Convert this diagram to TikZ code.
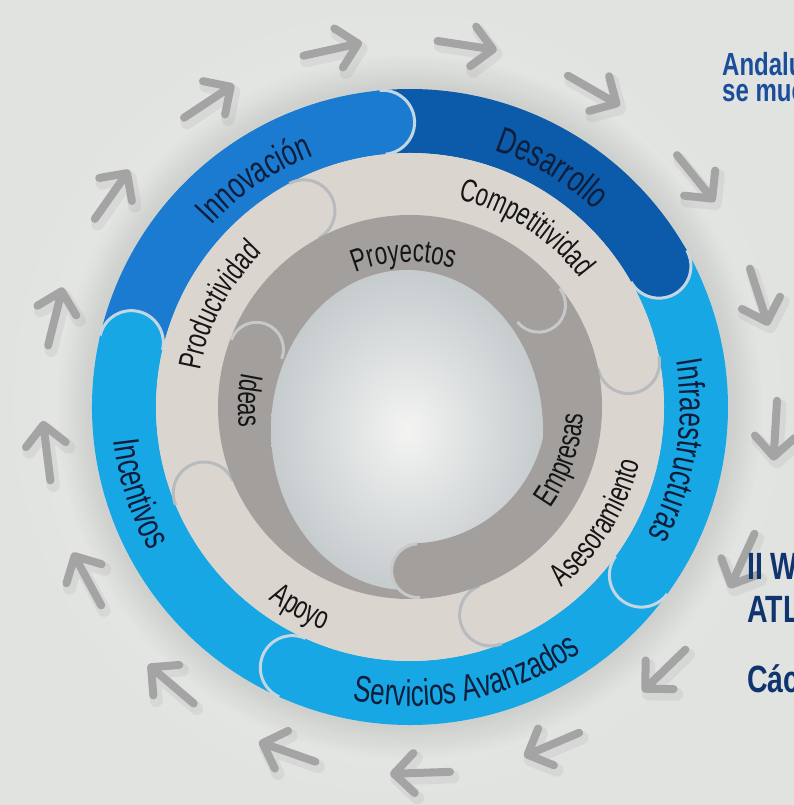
\documentclass[tikz,border=0pt]{standalone}
\usepackage{fontspec}
\usetikzlibrary{decorations.text}
\newfontfamily\hand[FakeStretch=0.7]{Liberation Sans}
\newfontfamily\slidefont[FakeStretch=0.75]{Liberation Sans}
\newcommand\ringbig{\hand\fontsize{37}{37}\selectfont}
\newcommand\ringsmall{\hand\fontsize{32}{32}\selectfont}
\definecolor{bgin}{HTML}{F2F3F1}
\definecolor{bgout}{HTML}{E1E3E1}
\definecolor{arrowgray}{HTML}{A4A4A4}
\definecolor{innoblue}{HTML}{1B7BD0}
\definecolor{deepblue}{HTML}{0B5BAA}
\definecolor{skyblue}{HTML}{17A7E4}
\definecolor{blueseam}{HTML}{C4D6E2}
\definecolor{sand}{HTML}{DAD5CF}
\definecolor{sandseam}{HTML}{B8BBBE}
\definecolor{stone}{HTML}{A39F9D}
\definecolor{stoneseam}{HTML}{C6C8C9}
\definecolor{hubin}{HTML}{F3F4F2}
\definecolor{hubout}{HTML}{C6CBCE}
\definecolor{navyink}{HTML}{0D1D3A}
\definecolor{ink}{HTML}{151515}
\definecolor{titleblue}{HTML}{1A4E9B}
\definecolor{slideblue}{HTML}{10346E}
\begin{document}
\begin{tikzpicture}[x=1pt,y=1pt,
  chevron/.style={draw=arrowgray,line width=8pt,line cap=round,line join=round},
  chevronshade/.style={draw=black,opacity=0.05,line width=13pt,line cap=round,line join=round},
  outerband/.style={draw=#1,line width=64pt},
  blueedge/.style={draw=blueseam,line width=3pt},
  sandedge/.style={draw=sandseam,line width=3pt},
  stoneedge/.style={draw=stoneseam,line width=3pt},
  ringlabel/.style={decorate,decoration={text along path,text align=center,text color=navyink,text={#1}}},
  innerlabel/.style={decorate,decoration={text along path,text align=center,text color=ink,text={#1}}},
  topnote/.style={anchor=base west,inner sep=0pt,text=titleblue,font=\slidefont\bfseries\fontsize{32}{32}\selectfont},
  sidenote/.style={anchor=base west,inner sep=0pt,text=slideblue,font=\slidefont\bfseries\fontsize{38}{38}\selectfont}]
\useasboundingbox (0,0) rectangle (794,805);
\clip (0,0) rectangle (794,805);
\shade[inner color=bgin,outer color=bgout] (0,0) rectangle (794,805);
\begin{scope}[shift={(410,398)}]
\foreach \r in {322,325,...,352} \fill[black,opacity=0.008] (0,0) circle (\r pt);
\begin{scope}[shift={(3,-5)}]
\foreach \i in {0,...,16} {
  \pgfmathsetmacro\dir{102.5-21.18*\i}
  \draw[chevronshade,shift={(\dir:366)},rotate=\dir-90] (-28,0) -- (28,0) (8,20) -- (28,0) -- (8,-20);
}
\end{scope}
\foreach \i in {0,...,16} {
  \pgfmathsetmacro\dir{102.5-21.18*\i}
  \draw[chevron,shift={(\dir:366)},rotate=\dir-90] (-28,0) -- (28,0) (8,20) -- (28,0) -- (8,-20);
}
\draw[outerband=innoblue] (167:286) arc[start angle=167,end angle=95.5,radius=286pt];
\draw[outerband=deepblue] (95.5:286) arc[start angle=95.5,end angle=29.5,radius=286pt];
\draw[outerband=skyblue] (29.5:286) arc[start angle=29.5,end angle=-36,radius=286pt];
\draw[outerband=skyblue] (-36:286) arc[start angle=-36,end angle=-114.3,radius=286pt];
\draw[outerband=skyblue] (-114.3:286) arc[start angle=-114.3,end angle=-193,radius=286pt];
\foreach \b/\c in {95.5/innoblue,29.5/deepblue,-36/skyblue,-114.3/skyblue,167/skyblue} {
  \fill[\c] (\b:286) circle (32pt);
  \draw[blueedge] (\b:318) arc[start angle=\b,end angle=\b-180,radius=32pt];
}
\fill[sand] (0,0) circle (254pt);
\foreach \b in {118.4,11.5,-68.8,202.7}
  \draw[sandedge] (\b:254) arc[start angle=\b,end angle=\b-180,radius=31pt];
\fill[stone] (0,0) circle (192pt);
\shade[inner color=hubin,outer color=hubout] (-3,-23) ellipse [x radius=136pt,y radius=160pt];
\draw[stone,line width=55pt] (38.4:164) arc[start angle=38.4,end angle=-87,radius=164pt];
\foreach \b in {159.4,38.4,-87} {
  \fill[stone] (\b:164) circle (27pt);
  \draw[stoneedge] (\b:191) arc[start angle=\b,end angle=\b-180,radius=27pt];
}
\path[ringlabel={|\ringbig|Innovación}] (184.3:269) arc[start angle=184.3,end angle=64.3,radius=269pt];
\path[ringlabel={|\ringbig|Desarrollo}] (119.2:270) arc[start angle=119.2,end angle=-0.8,radius=270pt];
\path[ringlabel={|\ringbig|Infraestructuras}] (50.8:270) arc[start angle=50.8,end angle=-69.2,radius=270pt];
\path[ringlabel={|\ringbig|Servicios Avanzados}] (-148:299) arc[start angle=-148,end angle=-8,radius=299pt];
\path[ringlabel={|\ringbig|Incentivos}] (137.7:298) arc[start angle=137.7,end angle=257.7,radius=298pt];
\path[innerlabel={|\ringsmall|Productividad}] (212:213) arc[start angle=212,end angle=92,radius=213pt];
\path[innerlabel={|\ringsmall|Competitividad}] (117:213) arc[start angle=117,end angle=-3,radius=213pt];
\path[innerlabel={|\ringsmall|Asesoramiento}] (-91.8:236) arc[start angle=-91.8,end angle=28.2,radius=236pt];
\path[innerlabel={|\ringsmall|Apoyo}] (-178.6:239) arc[start angle=-178.6,end angle=-58.6,radius=239pt];
\path[innerlabel={|\ringsmall|Proyectos}] (152.5:145) arc[start angle=152.5,end angle=32.5,radius=145pt];
\path[innerlabel={|\ringsmall|Ideas}] (117.6:172) arc[start angle=117.6,end angle=237.6,radius=172pt];
\path[innerlabel={|\ringsmall|Empresas}] (-79:173) arc[start angle=-79,end angle=41,radius=173pt];
\end{scope}
\node[topnote] (andalu) at (722,729) {Andalu};
\node[topnote] (semue) at (722,703) {se mue};
\node[sidenote] (iiw) at (747,225) {II W};
\node[sidenote] (atl) at (747,182) {ATL};
\node[sidenote] (cadiz) at (747,112) {Các};
\end{tikzpicture}
\end{document}
